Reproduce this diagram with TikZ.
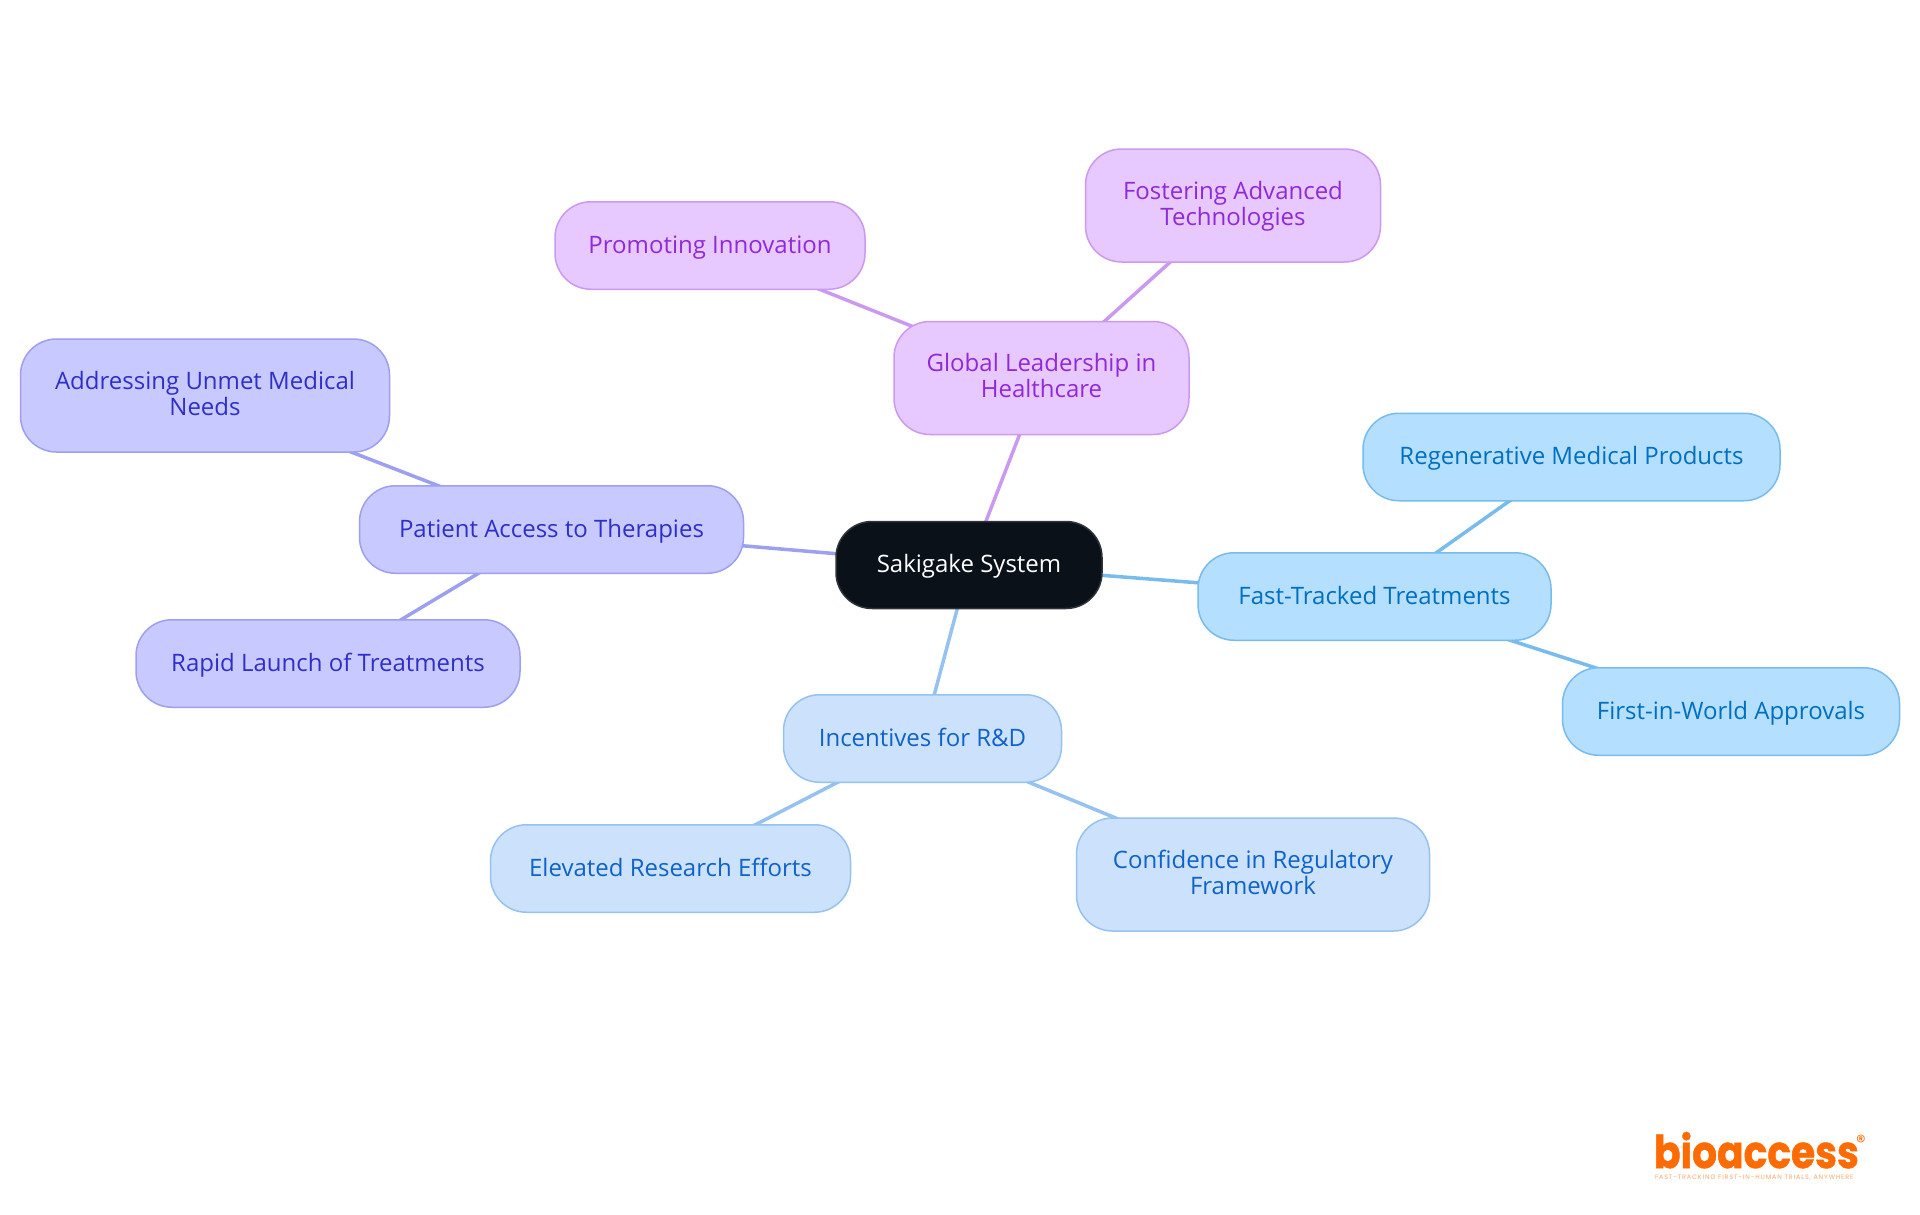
\documentclass[tikz,border=0pt]{standalone}
\usepackage{fontspec}
\usepackage{graphicx}
\setmainfont{Open Sans}
\newfontfamily\logofont[BoldFeatures={FakeBold=1.2}]{Poppins}
\newfontfamily\tagfont[LetterSpace=14]{Poppins}
\usetikzlibrary{backgrounds}
\newcommand{\ls}{\rule[-6.5pt]{0pt}{26pt}}
\newcommand{\lo}{\rule[-5pt]{0pt}{26pt}}
\definecolor{rootfill}{HTML}{0B1119}
\definecolor{rootline}{HTML}{30343A}
\definecolor{purfill}{HTML}{E8C9FF}
\definecolor{purline}{HTML}{CB9AF0}
\definecolor{purtext}{HTML}{9029D8}
\definecolor{indfill}{HTML}{C8CAFF}
\definecolor{indline}{HTML}{9D9FEF}
\definecolor{indtext}{HTML}{2F2FC8}
\definecolor{skyfill}{HTML}{B4DFFF}
\definecolor{skyline}{HTML}{78BCEE}
\definecolor{skytext}{HTML}{006FBF}
\definecolor{blufill}{HTML}{CCE2FC}
\definecolor{bluline}{HTML}{96C2F0}
\definecolor{blutext}{HTML}{0F62C8}
\definecolor{logoorange}{HTML}{FF6B00}
\tikzset{
  x=1pt,y=-1pt,
  mapnode/.style={rectangle,rounded corners=36pt,line width=1.5pt,inner sep=0pt,outer sep=0pt,align=center,
    font=\fontsize{24}{26}\selectfont},
  rootnode/.style={mapnode,draw=rootline,fill=rootfill,text=white,minimum width=266pt,minimum height=87pt},
  purnode/.style={mapnode,draw=purline,fill=purfill,text=purtext},
  indnode/.style={mapnode,draw=indline,fill=indfill,text=indtext},
  skynode/.style={mapnode,draw=skyline,fill=skyfill,text=skytext},
  blunode/.style={mapnode,draw=bluline,fill=blufill,text=blutext},
  edge/.style={line width=3.5pt},
  logotext/.style={inner sep=0pt,outer sep=0pt,text=logoorange,anchor=base west},
}
\begin{document}
\begin{tikzpicture}
\useasboundingbox (0,0) rectangle (1920,1215);
\begin{pgfonlayer}{background}
\fill[white] (0,0) rectangle (1920,1215);
\end{pgfonlayer}
\node[rootnode] (root) at (969,565) {\lo Sakigake System};
\node[purnode,minimum width=295pt,minimum height=113pt] (glob) at (1041.5,378) {\ls Global Leadership in\\\ls Healthcare};
\node[purnode,minimum width=295pt,minimum height=113pt] (fost) at (1233,205.5) {\ls Fostering Advanced\\\ls Technologies};
\node[purnode,minimum width=310pt,minimum height=87.5pt] (prom) at (710,245.5) {\lo Promoting Innovation};
\node[indnode,minimum width=384pt,minimum height=87.5pt] (pati) at (551.5,529.5) {\lo Patient Access to Therapies};
\node[indnode,minimum width=369pt,minimum height=113pt] (addr) at (205,395.5) {\ls Addressing Unmet Medical\\\ls Needs};
\node[indnode,minimum width=384pt,minimum height=87.5pt] (rapi) at (328,663.5) {\lo Rapid Launch of Treatments};
\node[skynode,minimum width=353pt,minimum height=87.5pt] (fast) at (1374.5,596.5) {\lo Fast-Tracked Treatments};
\node[skynode,minimum width=417pt,minimum height=87.5pt] (rege) at (1571.5,457) {\lo Regenerative Medical Products};
\node[skynode,minimum width=337pt,minimum height=87.5pt] (firs) at (1731,711.5) {\lo First-in-World Approvals};
\node[blunode,minimum width=278pt,minimum height=87.5pt] (ince) at (922.5,738.5) {\lo Incentives for R\&D};
\node[blunode,minimum width=360pt,minimum height=87.5pt] (elev) at (670.5,868.5) {\lo Elevated Research Efforts};
\node[blunode,minimum width=353pt,minimum height=113pt] (conf) at (1253,874.5) {\ls Confidence in Regulatory\\\ls Framework};
\begin{pgfonlayer}{background}
\draw[edge,purline] (root.center) -- (glob.center);
\draw[edge,purline] (glob.center) -- (fost.center);
\draw[edge,purline] (glob.center) -- (prom.center);
\draw[edge,indline] (root.center) -- (pati.center);
\draw[edge,indline] (pati.center) -- (addr.center);
\draw[edge,indline] (pati.center) -- (rapi.center);
\draw[edge,skyline] (root.center) -- (fast.center);
\draw[edge,skyline] (fast.center) -- (rege.center);
\draw[edge,skyline] (fast.center) -- (firs.center);
\draw[edge,bluline] (root.center) -- (ince.center);
\draw[edge,bluline] (ince.center) -- (elev.center);
\draw[edge,bluline] (ince.center) -- (conf.center);
\end{pgfonlayer}
\node[logotext] (logo) at (1654,1168) {\scalebox{.87}[1]{\logofont\bfseries\fontsize{45}{45}\selectfont bioaccess}};
\node[logotext,anchor=center] (reg) at (1861,1142) {\logofont\fontsize{19}{19}\selectfont ®};
\node[logotext,opacity=.6] (tag) at (1655,1179.5) {\tagfont\fontsize{6.4}{7}\selectfont FAST-TRACKING FIRST-IN-HUMAN TRIALS, ANYWHERE};
\end{tikzpicture}
\end{document}
